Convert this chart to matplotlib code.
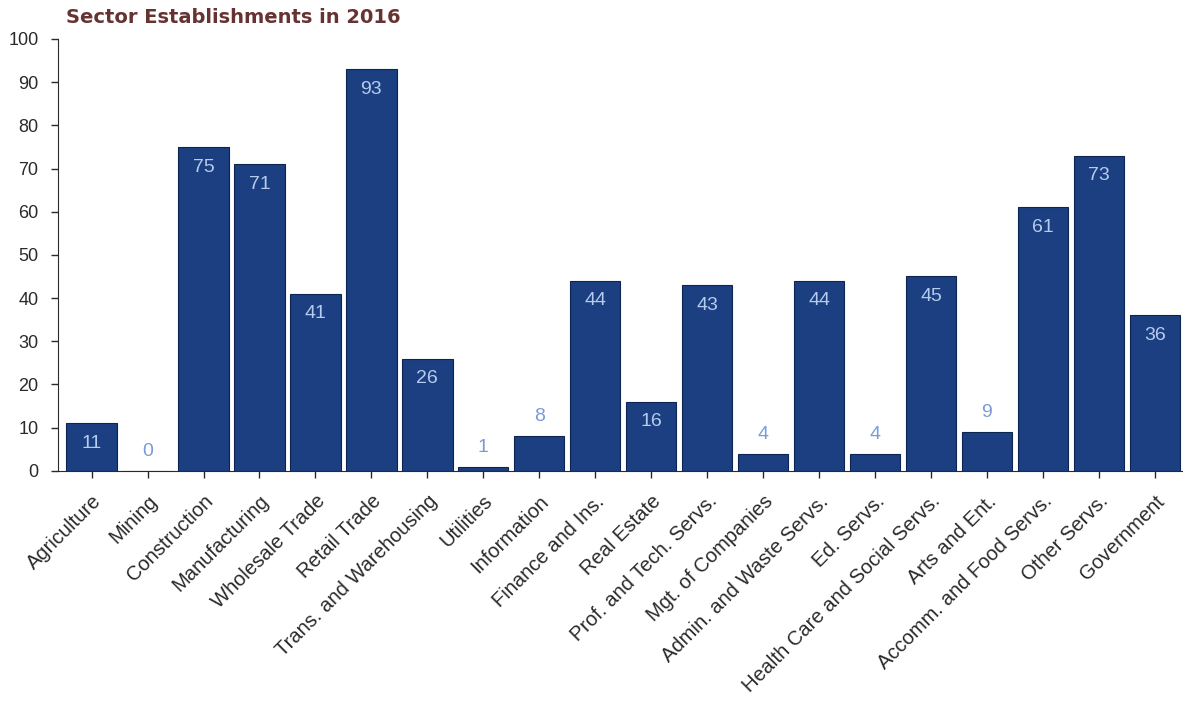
import matplotlib
matplotlib.use('Agg')
import matplotlib.pyplot as plt

sectors = ['Agriculture', 'Mining', 'Construction', 'Manufacturing', 'Wholesale Trade',
           'Retail Trade', 'Trans. and Warehousing', 'Utilities', 'Information',
           'Finance and Ins.', 'Real Estate', 'Prof. and Tech. Servs.', 'Mgt. of Companies',
           'Admin. and Waste Servs.', 'Ed. Servs.', 'Health Care and Social Servs.',
           'Arts and Ent.', 'Accomm. and Food Servs.', 'Other Servs.', 'Government']
establishments = [11, 0, 75, 71, 41, 93, 26, 1, 8, 44, 16, 43, 4, 44, 4, 45, 9, 61, 73, 36]
yticks = [0, 10, 20, 30, 40, 50, 60, 70, 80, 90, 100]

plt.rcParams['font.family'] = ['Liberation Sans', 'DejaVu Sans']

fig = plt.figure(figsize=(11.84, 7.08), dpi=100)
ax = fig.add_axes([0.049, 0.335, 0.949, 0.61])

x = list(range(len(sectors)))
bars = ax.bar(x, establishments, width=0.9, color='#1b3f80', edgecolor='#0e2552', linewidth=0.8)

# value labels: inside the bar when it is tall enough, otherwise above it
for b, v in zip(bars, establishments):
    cx = b.get_x() + b.get_width() / 2
    if v >= 10:
        ax.annotate(str(v), (cx, v), xytext=(0, -14.5), textcoords='offset points',
                    ha='center', va='center', fontsize=14, color='#b6cbee')
    else:
        ax.annotate(str(v), (cx, v), xytext=(0, 14), textcoords='offset points',
                    ha='center', va='center', fontsize=14, color='#7b9bd6')

ax.set_xlim(-0.6, 19.48)
ax.set_ylim(0, 100)
ax.set_yticks(yticks)
ax.set_xticks(x)
ax.set_xticklabels(sectors, rotation=45, ha='right', rotation_mode='anchor')
ax.tick_params(axis='both', colors='#2a2a2a', length=5, width=1)
ax.tick_params(axis='y', labelsize=13, pad=9)
ax.tick_params(axis='x', labelsize=14.5, pad=10)
for s in ['top', 'right']:
    ax.spines[s].set_visible(False)
for s in ['left', 'bottom']:
    ax.spines[s].set_color('#2a2a2a')

fig.text(0.056, 0.975, 'Sector Establishments in 2016', family='DejaVu Sans',
         fontweight='bold', fontsize=14, color='#663333', va='center', ha='left')

fig.savefig('out.png', dpi=100)
